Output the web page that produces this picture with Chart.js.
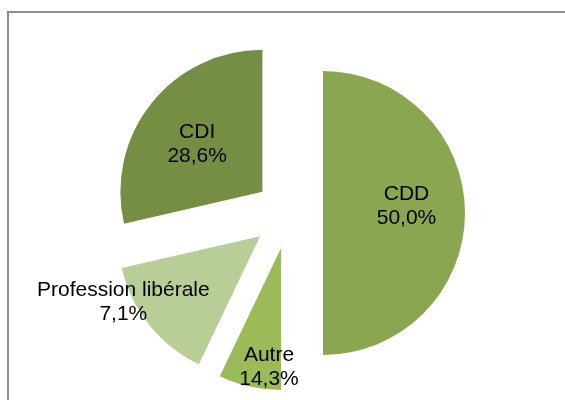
<!DOCTYPE html>
<html>
<head>
<meta charset="utf-8">
<script src="https://cdn.jsdelivr.net/npm/chart.js@4.4.1/dist/chart.umd.min.js"></script>
<style>
    html, body { margin: 0; padding: 0; background: #fff; overflow: hidden; }
    #wrap { position: relative; width: 565px; height: 400px; overflow: hidden; }
    #frame {
        position: absolute; left: 7px; top: 11px;
        width: 620px; height: 450px;
        border: 2px solid #8e8e8e; box-sizing: border-box;
    }
    #chart { position: absolute; left: 0; top: 0; }
</style>
</head>
<body>
<div id="wrap">
    <div id="frame"></div>
    <canvas id="chart" width="565" height="400"></canvas>
</div>
<script>
/* ---------- data ---------- */

// clockwise from 12 o'clock, as drawn
const categories = ['CDD', 'Autre', 'Profession libérale', 'CDI'];
const shares = [50.0, 7.1, 14.3, 28.6];
// percentages as printed on the slices
const shareLabels = ['50,0%', '14,3%', '7,1%', '28,6%'];

/* ---------- style ---------- */

const sliceColors = ['#8aa650', '#9bbb59', '#b9ce97', '#768e43'];
const explode = [34, 36, 37, 34];          // px each slice is pulled out
const labelRadius = [0.59, 0.84, 1.07, 0.57];   // fraction of radius
const labelTurn = [-4.8, -7, 12.9, -2.2];       // degrees off mid-angle

/* ---------- plugins ---------- */

// draw each arc shifted along its mid-angle
const explodePlugin = {
    id: 'explode',
    beforeDatasetDraw(chart, args) {
        const ctx = chart.ctx;
        args.meta.data.forEach((arc, i) => {
            const mid = (arc.startAngle + arc.endAngle) / 2;
            ctx.save();
            ctx.translate(Math.cos(mid) * explode[i], Math.sin(mid) * explode[i]);
            arc.draw(ctx, chart.chartArea);
            ctx.restore();
        });
        return false;
    }
};

const sliceLabels = {
    id: 'sliceLabels',
    afterDatasetsDraw(chart) {
        const ctx = chart.ctx;
        const meta = chart.getDatasetMeta(0);

        ctx.save();
        ctx.font = '21px "Liberation Sans", Arial, sans-serif';
        ctx.fillStyle = '#000';
        ctx.textAlign = 'center';
        ctx.textBaseline = 'middle';

        meta.data.forEach((arc, i) => {
            const mid = (arc.startAngle + arc.endAngle) / 2;
            const ax = arc.x + Math.cos(mid) * explode[i];
            const ay = arc.y + Math.sin(mid) * explode[i];
            const a = mid + labelTurn[i] * Math.PI / 180;
            const r = arc.outerRadius * labelRadius[i];
            const x = ax + Math.cos(a) * r;
            const y = ay + Math.sin(a) * r;

            ctx.fillText(categories[i], x, y - 12);
            ctx.fillText(shareLabels[i], x, y + 12);
        });
        ctx.restore();
    }
};

/* ---------- chart ---------- */

new Chart(document.getElementById('chart'), {
    type: 'pie',
    data: {
        labels: categories,
        datasets: [{
            data: shares,
            backgroundColor: sliceColors,
            borderWidth: 0
        }]
    },
    options: {
        responsive: false,
        animation: false,
        layout: {
            padding: { top: 71, bottom: 45, left: 13, right: 0 }
        },
        plugins: {
            legend: { display: false },
            tooltip: { enabled: false }
        }
    },
    plugins: [explodePlugin, sliceLabels]
});
</script>
</body>
</html>
